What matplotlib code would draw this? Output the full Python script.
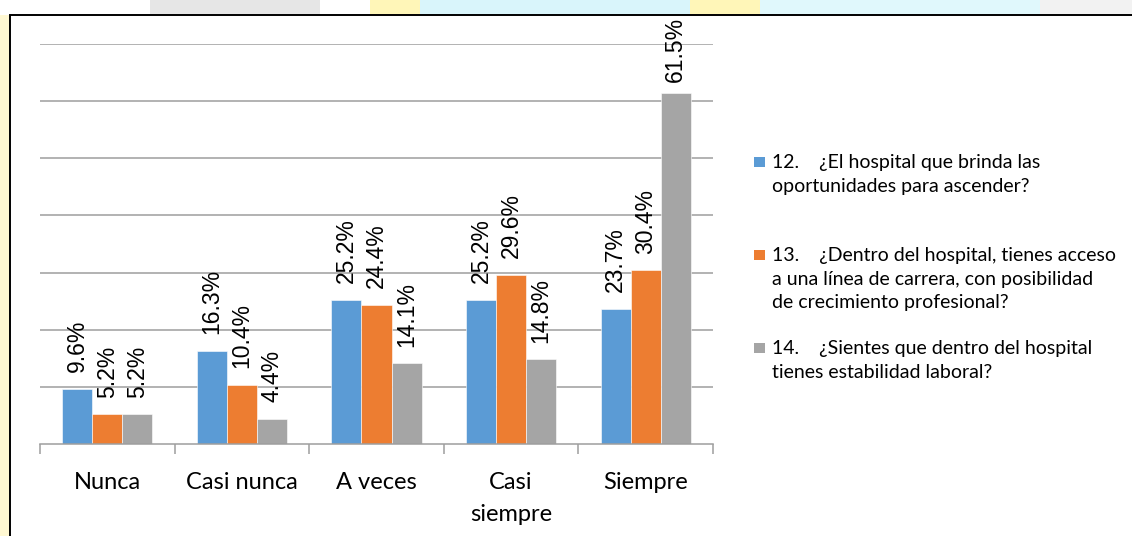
import matplotlib
matplotlib.use("Agg")
import matplotlib.pyplot as plt
from matplotlib.patches import Rectangle
import numpy as np

categories = ["Nunca", "Casi nunca", "A veces", "Casi\nsiempre", "Siempre"]
series_labels = [
    "12.    ¿El hospital que brinda las\noportunidades para ascender?",
    "13.    ¿Dentro del hospital, tienes acceso\na una línea de carrera, con posibilidad\nde crecimiento profesional?",
    "14.    ¿Sientes que dentro del hospital\ntienes estabilidad laboral?",
]
q12 = [9.6, 16.3, 25.2, 25.2, 23.7]
q13 = [5.2, 10.4, 24.4, 29.6, 30.4]
q14 = [5.2, 4.4, 14.1, 14.8, 61.5]
series_values = [q12, q13, q14]
colors = ["#5B9BD5", "#ED7D31", "#A5A5A5"]

W, H = 1132, 536
fig = plt.figure(figsize=(W / 100, H / 100), dpi=100, facecolor="#FFF8D2")

# page strip behind the chart frame
for x0, x1, c in [(0, 150, "#FFFFFF"), (150, 320, "#E6E6E6"), (320, 370, "#FFFFFF"),
                  (370, 420, "#FFF6B8"), (420, 690, "#D9F5FB"), (690, 760, "#FFF6B8"),
                  (760, 1040, "#E0F8FC"), (1040, 1132, "#F2F2F2")]:
    fig.patches.append(Rectangle((x0 / W, 1 - 15 / H), (x1 - x0) / W, 15 / H,
                                 transform=fig.transFigure, facecolor=c,
                                 edgecolor="none", zorder=0))

# chart frame
fig.patches.append(Rectangle((10 / W, -0.05), 1.1, 1 - 15 / H + 0.05,
                             transform=fig.transFigure, facecolor="white",
                             edgecolor="black", linewidth=1.4, zorder=1))

ax_left, ax_right, ax_top, ax_bottom = 40, 713, 44, 444
ax = fig.add_axes([ax_left / W, 1 - ax_bottom / H,
                   (ax_right - ax_left) / W, (ax_bottom - ax_top) / H])
ax.set_facecolor("none")
ax.set_zorder(2)

n = len(categories)
x = np.arange(n)
bw = 0.223
for i, (vals, col) in enumerate(zip(series_values, colors)):
    ax.bar(x + (i - 1) * bw, vals, width=bw, color=col, edgecolor="white",
           linewidth=0.4, zorder=3)

ax.set_xlim(-0.5, n - 0.5)
ax.set_ylim(0, 70)
ax.set_yticks(np.arange(10, 71, 10))
ax.yaxis.grid(True, color="#9E9E9E", linewidth=1.1, zorder=1)
ax.tick_params(axis="y", left=False, labelleft=False)
for s in ["top", "left", "right"]:
    ax.spines[s].set_visible(False)
ax.spines["bottom"].set_color("#9E9E9E")
ax.spines["bottom"].set_linewidth(1.1)
ax.spines["bottom"].set_zorder(4)

ax.set_xticks(np.arange(-0.5, n, 1.0))
ax.set_xticklabels([])
ax.tick_params(axis="x", which="major", length=7, width=1.1, color="#9E9E9E")
ax.set_xticks(x, minor=True)
ax.set_xticklabels(categories, minor=True, fontsize=17, family="Lato",
                   linespacing=1.67)
ax.tick_params(axis="x", which="minor", length=0, pad=20)

# value labels above each bar, kept inside the frame
fig.canvas.draw()
renderer = fig.canvas.get_renderer()
top_limit_px = H - 17  # display coords of the highest allowed label edge
texts = []
for i, vals in enumerate(series_values):
    for xi, v in zip(x, vals):
        t = ax.annotate(f"{v:.1f}%", xy=(xi + (i - 1) * bw, v), xytext=(0, 12),
                        textcoords="offset points", rotation=90, ha="center",
                        va="bottom", fontsize=16.5, family="Liberation Sans",
                        annotation_clip=False, zorder=5)
        texts.append(t)
fig.canvas.draw()
for t in texts:
    bb = t.get_window_extent(renderer)
    if bb.y1 > top_limit_px:
        t.xyann = (0, t.xyann[1] - (bb.y1 - top_limit_px) * 72 / 100)

# legend
legend_rows = [162, 255, 348]
for lab, col, yc in zip(series_labels, colors, legend_rows):
    fig.patches.append(Rectangle((754 / W, 1 - (yc + 5) / H), 11 / W, 10 / H,
                                 transform=fig.transFigure, facecolor=col,
                                 edgecolor="none", zorder=3))
    fig.text(772 / W, 1 - (yc - 8) / H, lab, ha="left", va="top", fontsize=14,
             family="Lato", linespacing=1.47, zorder=4)

fig.savefig("out.png", dpi=100)
